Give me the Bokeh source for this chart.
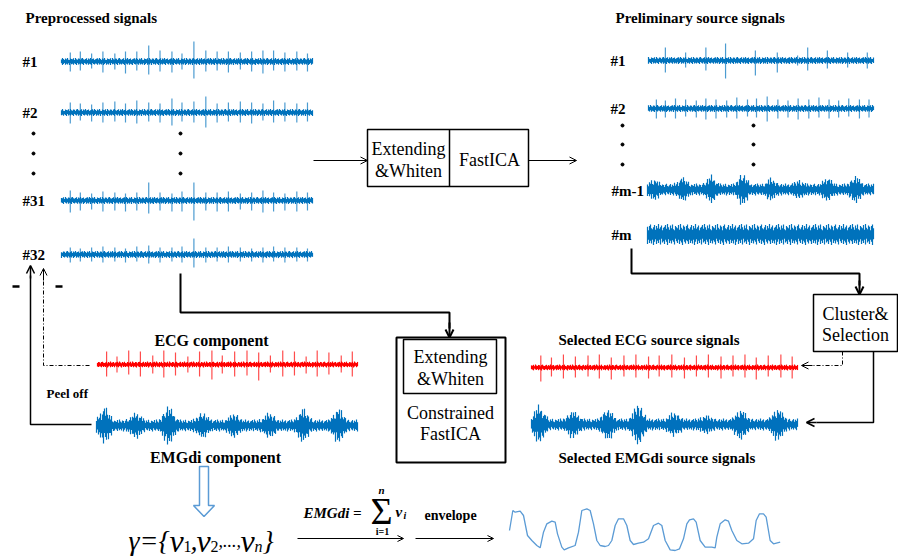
import numpy as np
from bokeh.plotting import figure
from bokeh.models import Range1d, Arrow, OpenHead
from bokeh.core.properties import value
from bokeh.embed import file_html
from bokeh.resources import INLINE

# ---------------- data ----------------
REC_LEN = 20.0  # seconds shown in every trace

PRE_LABELS = ["#1", "#2", "#31", "#32"]
SRC_LABELS = ["#1", "#2", "#m-1", "#m"]

BEAT_TIMES = [0.7, 1.5, 2.4, 3.3, 4.25, 5.1, 6.0, 6.95, 7.85, 8.8, 9.6,
              10.55, 11.5, 12.4, 13.3, 14.25, 15.15, 16.05, 16.9, 17.8, 18.75, 19.6]

PRE1_UP = [9, 10, 8, 10, 8, 10, 10, 16, 11, 10, 8, 20, 11, 10, 10, 9, 10, 11, 11, 9, 10, 8]
PRE1_DN = [10, 9, 7, 11, 8, 12, 9, 13, 10, 11, 8, 17, 10, 9, 11, 8, 10, 12, 9, 10, 9, 10]
PRE2_UP = [10, 9, 8, 10, 11, 9, 12, 10, 9, 14, 10, 11, 16, 9, 10, 11, 10, 9, 12, 10, 9, 10]
PRE2_DN = [11, 8, 9, 10, 9, 10, 11, 9, 10, 13, 9, 10, 15, 10, 9, 10, 11, 8, 10, 9, 10, 9]
PRE31_UP = [10, 8, 7, 9, 8, 7, 8, 18, 8, 7, 9, 18, 8, 8, 9, 7, 8, 10, 8, 7, 9, 8]
PRE31_DN = [12, 10, 9, 11, 10, 11, 10, 13, 10, 11, 11, 20, 10, 11, 11, 9, 10, 12, 11, 10, 11, 10]
PRE32_UP = [7, 6, 7, 8, 7, 6, 8, 9, 7, 7, 8, 16, 7, 7, 8, 7, 6, 7, 8, 7, 7, 6]
PRE32_DN = [8, 7, 7, 8, 7, 8, 7, 9, 8, 7, 8, 13, 8, 7, 8, 7, 7, 8, 7, 8, 7, 7]

SRC1_BEATS = [1.5, 3.3, 5.1, 6.85, 9.5, 11.45, 13.25, 14.15, 15.9, 17.7, 19.45]
SRC1_UP = [13, 8, 13, 17, 10, 8, 5, 13, 10, 8, 8]
SRC1_DN = [12, 7, 10, 18, 15, 12, 5, 10, 8, 7, 8]
SRC2_UP = [9, 8, 10, 9, 8, 10, 9, 8, 11, 9, 10, 12, 9, 8, 10, 9, 11, 9, 8, 10, 9, 9]
SRC2_DN = [10, 9, 10, 8, 9, 11, 10, 9, 10, 8, 9, 13, 10, 9, 11, 10, 9, 10, 9, 8, 10, 9]

ECG_UP = [13, 8, 14, 13, 9, 14, 12, 8, 13, 14, 9, 13, 14, 12, 9, 14, 13, 8, 14, 12, 9, 13]
ECG_DN = [12, 8, 10, 12, 9, 13, 11, 8, 12, 15, 9, 12, 11, 16, 8, 12, 11, 9, 12, 10, 8, 12]
SEL_ECG_UP = [12, 10, 13, 11, 12, 13, 10, 12, 13, 11, 12, 13, 10, 12, 13, 11, 12, 13, 10, 12, 13, 11]
SEL_ECG_DN = [14, 9, 11, 10, 9, 11, 12, 9, 10, 11, 9, 10, 11, 9, 10, 11, 9, 10, 12, 9, 10, 11]

EMG_BURSTS = [0.6, 3.0, 5.5, 8.1, 10.5, 13.2, 15.8, 18.5]
EMG_HEIGHT = [13, 8, 15, 8, 7, 8, 12, 13]
M1_BURSTS = [0.55, 3.1, 5.6, 8.4, 10.9, 13.4, 15.9, 18.4]
M1_HEIGHT = [6, 7, 9, 11, 6, 4, 7, 9]
SEL_EMG_BURSTS = [0.55, 3.1, 5.7, 8.0, 10.7, 13.1, 15.7, 18.5]
SEL_EMG_HEIGHT = [14, 9, 11, 16, 7, 4, 11, 12]

BURST_PROFILE = [0.1, 0.22, 0.4, 0.62, 0.85, 1.0, 0.9, 0.72, 0.5, 0.3, 0.15]
PROFILE_STEP = 0.13

JITTER_UP = [0.9, 0.55, 1.0, 0.7, 0.45, 0.85, 0.6, 0.95, 0.5, 0.4, 0.8, 0.7, 0.6,
             0.9, 0.45, 1.0, 0.65, 0.5, 0.85, 0.75, 0.4, 0.8, 0.95, 0.6, 0.5, 0.7,
             0.9, 0.45, 0.8, 0.6, 1.0, 0.55, 0.7, 0.85, 0.4, 0.65, 0.75]
JITTER_DN = [0.6, 0.85, 0.5, 1.0, 0.7, 0.45, 0.9, 0.6, 0.8, 0.5, 0.95, 0.4, 0.75,
             0.65, 0.9, 0.5, 0.7, 1.0, 0.45, 0.8, 0.6, 0.85, 0.55, 0.7, 0.95, 0.4,
             0.65, 0.8, 0.5, 0.9, 0.6, 0.75, 1.0, 0.45, 0.7, 0.85, 0.55, 0.65, 0.9,
             0.5, 0.8]

ENV_SAMPLE = [0, 10, 17, 32, 42, 54, 67, 82, 92, 102, 112, 127, 137, 144, 157, 164,
              177, 197, 207, 217, 232, 242, 252, 262, 272, 287, 297, 307, 317, 327,
              342, 352, 362, 372, 387, 402, 417, 432, 447, 457, 467, 482, 497, 510,
              522, 532, 540, 552, 560, 572, 587, 607, 617, 622, 632, 647, 657, 667,
              682, 697, 717, 732, 740, 750, 762, 770, 782, 792, 812]
ENV_LEVEL = [60, 120, 115, 118, 105, 45, 30, 15, 8, 55, 80, 88, 85, 50, 10, 2, 8,
             15, 55, 120, 125, 120, 80, 30, 15, 12, 15, 30, 75, 95, 95, 75, 30, 18,
             22, 25, 35, 75, 82, 75, 30, 2, 0, 5, 35, 80, 92, 95, 85, 30, 10, 10, 8,
             40, 80, 92, 88, 60, 30, 20, 22, 35, 90, 110, 110, 100, 30, 20, 25]

# ---------------- figure ----------------
SERIF = value("Liberation Serif")
BLUE = "#0072BD"
RED = "#FF0000"
LIGHT = "#5B9BD5"

p = figure(width=898, height=558, x_range=Range1d(0, 898), y_range=Range1d(558, 0),
           toolbar_location=None, output_backend="svg", min_border=0,
           x_axis_location=None, y_axis_location=None)
p.xgrid.grid_line_color = None
p.ygrid.grid_line_color = None
p.outline_line_color = None
p.background_fill_color = "white"
p.border_fill_color = "white"


def draw_signal(x0, x1, yc, base, color, jit, beats=None, up=None, dn=None,
                bursts=None, heights=None):
    n = int(round(x1 - x0)) + 1
    t = np.linspace(0.0, REC_LEN, n)
    amp = np.full(n, float(base))
    if bursts is not None:
        prof = np.array(BURST_PROFILE)
        half = len(prof) // 2
        for c, h in zip(bursts, heights):
            k = np.round((t - c) / PROFILE_STEP).astype(int) + half
            m = (k >= 0) & (k < len(prof))
            amp[m] += h * prof[k[m]]
    idx = np.arange(n)
    ju = np.array(JITTER_UP)[(idx + jit) % len(JITTER_UP)]
    jd = np.array(JITTER_DN)[(idx + 2 * jit) % len(JITTER_DN)]
    xs = x0 + t / REC_LEN * (x1 - x0)
    p.segment(xs, yc - amp * ju, xs, yc + amp * jd, line_color=color, line_width=1.2)
    if beats is not None:
        bx = x0 + np.array(beats) / REC_LEN * (x1 - x0)
        p.segment(bx, yc - np.array(up), bx, yc + np.array(dn), line_color=color,
                  line_width=1.2, line_alpha=0.7)


def txt(x, y, s, size, style="bold", align="left", baseline="middle", color="black",
        font=SERIF):
    p.text(x=[x], y=[y], text=[s], text_font=font, text_font_size=f"{size}px",
           text_font_style=style, text_align=align, text_baseline=baseline,
           text_color=color)


def poly(xs, ys, lw, dash="solid"):
    p.line(xs, ys, line_color="black", line_width=lw, line_dash=dash)


def head(x0, y0, x1, y1, lw, size=8, dash="solid"):
    p.add_layout(Arrow(end=OpenHead(size=size, line_width=lw, line_color="black"),
                       x_start=x0, y_start=y0, x_end=x1, y_end=y1,
                       line_width=lw, line_color="black", line_dash=dash))


def box(l, r, t, b, lw):
    p.quad(left=[l], right=[r], top=[t], bottom=[b], fill_color=None,
           line_color="black", line_width=lw)


# ---- preprocessed signals ----
txt(25, 17, "Preprocessed signals", 15)
pre_y = [61, 112, 200, 254]
pre_up = [PRE1_UP, PRE2_UP, PRE31_UP, PRE32_UP]
pre_dn = [PRE1_DN, PRE2_DN, PRE31_DN, PRE32_DN]
for i, (lab, yc) in enumerate(zip(PRE_LABELS, pre_y)):
    txt(22, yc, lab, 15)
    draw_signal(61, 312, yc, 3.6, BLUE, 5 * i + 1, BEAT_TIMES, pre_up[i], pre_dn[i])
p.scatter([33, 33, 33, 180, 180, 180], [133, 153, 173, 133, 153, 173], size=3,
          color="black")

# ---- first processing box ----
box(367, 528, 129, 186, 1.5)
p.segment([449], [129], [449], [186], line_color="black", line_width=1.5)
txt(408, 148, "Extending", 18, "normal", "center")
txt(408, 170, "&Whiten", 18, "normal", "center")
txt(489, 159, "FastICA", 18, "normal", "center")
head(313, 160, 367, 160, 1, 7)
head(528, 160, 576, 160, 1, 7)

# ---- preliminary source signals ----
txt(615, 17, "Preliminary source signals", 15)
txt(610, 60, SRC_LABELS[0], 15)
draw_signal(648, 873, 60, 3.6, BLUE, 7, SRC1_BEATS, SRC1_UP, SRC1_DN)
txt(610, 108, SRC_LABELS[1], 15)
draw_signal(648, 873, 108, 3.6, BLUE, 13, BEAT_TIMES, SRC2_UP, SRC2_DN)
p.scatter([622, 622, 622, 753, 753, 753], [125, 144, 164, 125, 144, 164], size=3,
          color="black")
txt(611, 190, SRC_LABELS[2], 15)
draw_signal(647, 873, 189, 6.0, BLUE, 3, bursts=M1_BURSTS, heights=M1_HEIGHT)
txt(611, 234, SRC_LABELS[3], 15)
draw_signal(647, 873, 234, 10.5, BLUE, 19)

# ---- connectors to cluster / constrained box ----
poly([631, 631, 859, 859], [248, 273, 273, 285], 2)
head(859, 280, 859, 294, 2, 8)
poly([180, 180, 449, 449], [273, 312, 312, 328], 2)
head(449, 322, 449, 337, 2, 8)

# cluster box
box(813, 897, 294, 351, 1.5)
txt(855, 313, "Cluster&", 18, "normal", "center")
txt(855, 334, "Selection", 18, "normal", "center")
poly([842, 842, 812], [351, 365, 365], 1, "4 2 1 2")
head(812, 365, 801, 365, 1, 7)
poly([873, 873, 816], [351, 422, 422], 1.5)
head(816, 422, 806, 422, 1.5, 8)

# constrained box
box(396, 505, 337, 462, 2)
box(403, 496, 339, 393, 1.5)
txt(450, 356, "Extending", 18, "normal", "center")
txt(450, 378, "&Whiten", 18, "normal", "center")
txt(450, 412, "Constrained", 18, "normal", "center")
txt(450, 433, "FastICA", 18, "normal", "center")

# selected source signals
txt(558, 339, "Selected ECG source signals", 15)
draw_signal(531, 797, 367, 3.0, RED, 11, BEAT_TIMES, SEL_ECG_UP, SEL_ECG_DN)
draw_signal(531, 797, 424, 6.0, BLUE, 23, bursts=SEL_EMG_BURSTS, heights=SEL_EMG_HEIGHT)
txt(558, 457, "Selected EMGdi source signals", 15)

# ---- components (left) ----
txt(211, 340, "ECG component", 16, "bold", "center")
draw_signal(97, 357, 364, 3.0, RED, 17, BEAT_TIMES, ECG_UP, ECG_DN)
txt(46, 393, "Peel off", 13)
draw_signal(96, 357, 425, 6.0, BLUE, 29, bursts=EMG_BURSTS, heights=EMG_HEIGHT)
txt(215, 457, "EMGdi component", 16, "bold", "center")

poly([89, 43, 43], [365, 365, 280], 1, "4 2 1 2")
head(43, 280, 43, 268, 1, 7)
poly([91, 30, 30], [424, 424, 275], 1.5)
head(30, 278, 30, 265, 1.5, 8)
p.segment([12, 55], [286, 286], [19, 62], [286, 286], line_color="black", line_width=2.5)

# hollow arrow
p.patch([199, 208, 208, 214, 203.5, 193, 199], [466, 466, 505, 505, 516, 505, 505],
        fill_color="white", line_color=LIGHT, line_width=1.5)

# ---- bottom row: set notation ----
MAIN_BL = 540
SUB_BL = 546
txt(128, MAIN_BL, "γ={", 28, "italic", baseline="alphabetic")
txt(169, MAIN_BL, "ν", 32, "italic", baseline="alphabetic")
txt(183, SUB_BL, "1", 16, "normal", baseline="alphabetic")
txt(190, MAIN_BL, ",", 28, "italic", baseline="alphabetic")
txt(196, MAIN_BL, "ν", 32, "italic", baseline="alphabetic")
txt(210, SUB_BL, "2", 16, "normal", baseline="alphabetic")
txt(218, MAIN_BL, ",...,", 18, "italic", baseline="alphabetic")
txt(240, MAIN_BL, "ν", 32, "italic", baseline="alphabetic")
txt(254, SUB_BL, "n", 16, "italic", baseline="alphabetic")
txt(262, MAIN_BL, "}", 28, "italic", baseline="alphabetic")

# sum formula
txt(303, 512, "EMGdi =", 15, "bold italic")
txt(381, 510, "Σ", 38, "normal", "center")
txt(381, 489, "n", 11, "bold italic", "center")
txt(382, 531, "i=1", 10, "bold", "center")
txt(395, 511, "v", 15, "bold italic")
txt(403, 515, "i", 10, "bold italic")
head(297, 538, 403, 538, 1, 6)
txt(424, 515, "envelope", 14)
head(415, 538, 493, 538, 1, 6)

env_x = 509 + np.array(ENV_SAMPLE) / 3.0
env_y = 550 - np.array(ENV_LEVEL) / 3.0
p.line(env_x, env_y, line_color=LIGHT, line_width=1.3)

open("out.html", "w").write(file_html(p, INLINE))
